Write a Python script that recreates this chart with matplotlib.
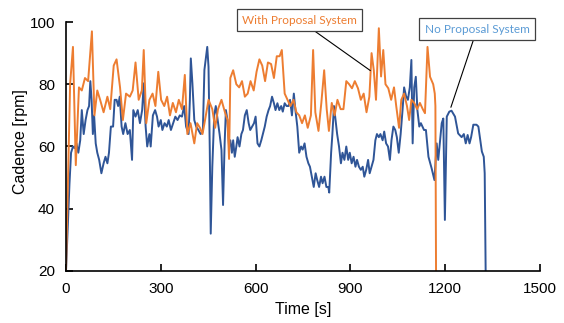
import matplotlib
matplotlib.use("Agg")
import matplotlib.pyplot as plt

# ---------------- data ----------------
with_t = [0, 13, 22, 31, 41, 50, 60, 70, 82, 90, 99, 108, 119, 131, 140, 151, 160, 171,
          180, 190, 202, 211, 220, 230, 240, 246, 254, 264, 274, 283, 292, 301, 311, 320,
          329, 338, 348, 357, 367, 376, 384, 394, 406, 415, 424, 432, 440, 451, 463, 472,
          481, 492, 503, 511, 516, 520, 529, 539, 548, 557, 566, 575, 584, 594, 603, 612,
          621, 630, 639, 649, 658, 667, 676, 683, 692, 701, 710, 720, 729, 738, 747, 756,
          765, 775, 782, 789, 799, 808, 817, 825, 832, 841, 850, 859, 869, 878, 887, 896,
          905, 914, 924, 933, 942, 951, 960, 967, 974, 981, 990, 997, 1004, 1011, 1020,
          1029, 1038, 1045, 1054, 1061, 1070, 1079, 1086, 1093, 1102, 1111, 1120, 1129,
          1136, 1144, 1152, 1162, 1167, 1169, 1171]
with_v = [20, 80, 92, 54, 79, 78, 82, 81, 97, 70, 78, 75, 71, 76, 72, 86, 88, 79,
          68.5, 77, 76, 78, 87, 75, 78, 91, 67.5, 75, 77, 73, 84, 75, 73, 76,
          70, 74, 71, 75, 72, 83, 64, 67.5, 61, 67.5, 66, 64, 68.5, 75, 72, 66,
          72, 75, 71, 68.5, 56, 82, 84.5, 80, 79, 81, 76, 77, 81, 78, 84, 88,
          86, 81, 87, 86.5, 82, 89, 89, 91, 77, 75, 73, 75, 71, 70, 67.5, 70,
          66, 70, 91, 71, 65, 74, 84.5, 72, 65, 74, 70, 75, 72, 72, 81, 80,
          78.7, 81, 78.7, 75, 77, 71, 76, 90, 84.5, 75, 98, 82.5, 91, 80, 78.7,
          75, 79, 73, 66, 75, 77, 73, 68.5, 75, 74, 72, 74, 72,
          70.7, 92, 82.4, 80, 77, 73, 20]

no_t = [0, 11, 16, 22, 27, 33, 39, 45, 50, 56, 62, 68, 73, 77, 81, 85, 89, 94, 99, 105,
        112, 119, 125, 131, 136, 142, 149, 154, 160, 165, 170, 176, 181, 188, 195, 202,
        209, 213, 220, 227, 234, 241, 246, 252, 257, 264, 268, 275, 282, 288, 293, 300,
        305, 312, 319, 325, 332, 339, 346, 353, 360, 367, 374, 380, 388, 392, 395, 400,
        406, 412, 419, 426, 433, 438, 442, 447, 451, 455, 458, 463, 469, 474, 480, 486,
        492, 497, 502, 506, 511, 516, 520, 525, 529, 534, 539, 543, 549, 555, 560, 566,
        572, 578, 583, 589, 595, 600, 606, 612, 618, 623, 629, 635, 641, 646, 652, 658,
        663, 669, 675, 681, 686, 692, 698, 704, 709, 715, 721, 726, 732, 738, 744, 749,
        755, 761, 767, 772, 778, 784, 790, 795, 801, 807, 812, 818, 824, 830, 833, 839,
        843, 848, 853, 858, 864, 870, 875, 881, 887, 893, 898, 904, 910, 916, 921, 927,
        933, 939, 944, 950, 956, 961, 967, 973, 979, 984, 990, 995, 1002, 1007, 1013,
        1019, 1025, 1030, 1036, 1042, 1047, 1053, 1059, 1065, 1070, 1076, 1082, 1088,
        1093, 1097, 1102, 1107, 1112, 1118, 1123, 1128, 1133, 1139,
        1147, 1157, 1166, 1173, 1178, 1189, 1194, 1199, 1205, 1213, 1220, 1231,
        1241, 1252, 1259, 1265, 1271, 1277, 1282, 1289, 1299, 1305, 1311,
        1316, 1322, 1325, 1328]
no_v = [20, 48, 58, 60, 59.5, 61, 58, 62, 71.7, 64, 68.5, 71.7, 73, 81, 75, 64, 70, 61, 58, 55.7,
        51.4, 54.6, 56.7, 54.6, 58, 66.4, 66.4, 75, 75, 73, 76, 66.4, 64, 67.5, 64, 65.3,
        55.7, 71.7, 69.6, 71.7, 67.5, 71.7, 80.3, 66.4, 60, 64, 60, 70, 71.7, 69.6, 66.4, 68.5,
        65.3, 67.5, 66.4, 68.5, 65.3, 67.5, 69.6, 68.5, 70, 69.6, 73, 66.4, 64, 75, 88.3, 80.3,
        68.5, 66.4, 65.3, 64, 64.8, 84.6, 87.8, 92, 85.6, 58.9, 32, 53.5, 70, 73, 68.5, 64,
        58.9, 41.2, 61, 71.7, 68.5, 60, 62, 58, 62, 56.7, 60, 63, 60, 64, 65.3, 70,
        71.7, 67.5, 65.3, 66.4, 67.5, 69.6, 61, 60, 62, 64, 66.4, 69.6, 71.7, 73, 76, 73.9,
        71.7, 73.9, 71.7, 73, 71.2, 73.9, 73, 73, 75, 70, 77, 71.7, 66.4, 58, 60, 59,
        61, 56.7, 54.6, 53.5, 50.3, 47, 51.4, 49.2, 47, 50.3, 48.2, 50.3, 47, 47, 45.2, 58,
        64, 73, 68.5, 64, 60, 54.6, 58, 55.7, 60, 55.7, 58, 54.6, 56.7, 53.5, 55.7, 53.5,
        52.5, 53.5, 50.3, 52.5, 55.7, 51.4, 53.5, 55.7, 62, 64, 63, 64, 62, 64.8, 61,
        60, 55.7, 62, 66.4, 65.3, 63, 58, 64, 71.7, 79, 76.2, 75, 79,
        87.8, 61, 79, 82.4, 71.7, 66.4, 67.5, 66.4, 65.3, 65.3,
        56.7, 53, 49.2, 61, 55.7, 67.5, 69, 36.4, 69.6, 71.2, 71.5, 69.6,
        64.2, 63, 64, 61, 63.7, 61, 63, 67, 67, 66.4, 62,
        58.4, 56.7, 51.4, 20]

x_ticks = [0, 300, 600, 900, 1200, 1500]
y_ticks = [20, 40, 60, 80, 100]
label_with = "With Proposal System"
label_no = "No Proposal System"

# ---------------- plot ----------------
plt.rcParams['font.family'] = ['Liberation Sans', 'DejaVu Sans']

fig = plt.figure(figsize=(5.64, 3.23), dpi=100)
ax = fig.add_axes([66/564, 1-271/323, 474/564, 249/323])

blue = '#2F5597'
orange = '#ED7D31'
ax.plot(no_t, no_v, color=blue, lw=1.4, solid_joinstyle='round')
ax.plot(with_t, with_v, color=orange, lw=1.4, solid_joinstyle='round')

ax.set_xlim(0, 1500)
ax.set_ylim(20, 100)
ax.set_xticks(x_ticks)
ax.set_yticks(y_ticks)
for s in ['top', 'right']:
    ax.spines[s].set_visible(False)
for s in ['left', 'bottom']:
    ax.spines[s].set_linewidth(1.2)
ax.tick_params(direction='in', length=5, width=1.2, labelsize=11, pad=8)

ax.set_xlabel('Time [s]', fontsize=11.5)
ax.set_ylabel('Cadence [rpm]', fontsize=11.5)
ax.xaxis.set_label_coords(0.5, -0.125)
ax.yaxis.set_label_coords(-0.08, 0.52)

box = dict(boxstyle='square,pad=0.45', fc='white', ec='#404040', lw=0.9)
ax.annotate(label_with, xy=(963, 84.4), xycoords='data',
            xytext=(299.4/564, 1-20.2/323), textcoords='figure fraction',
            ha='center', va='center', fontsize=8.5, color=orange,
            family=['Lato', 'DejaVu Sans'], bbox=box,
            arrowprops=dict(arrowstyle='-', color='black', lw=0.8,
                            shrinkA=0, shrinkB=0))
ax.annotate(label_no, xy=(1218, 72.6), xycoords='data',
            xytext=(477/564, 1-29.2/323), textcoords='figure fraction',
            ha='center', va='center', fontsize=8.5, color='#5B9BD5',
            family=['Lato', 'DejaVu Sans'], bbox=box,
            arrowprops=dict(arrowstyle='-', color='black', lw=0.8,
                            shrinkA=0, shrinkB=0))

fig.savefig('out.png', dpi=100)
